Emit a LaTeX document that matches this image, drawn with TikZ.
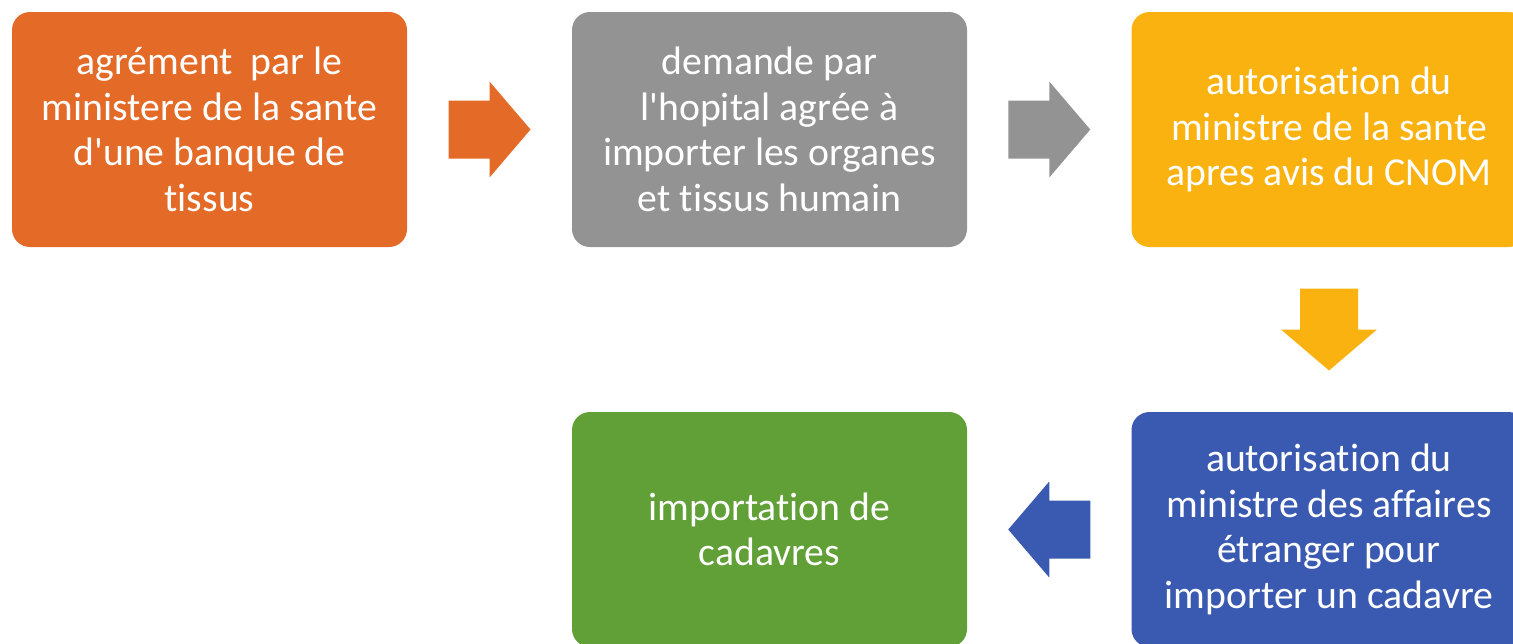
\documentclass[tikz,border=0pt]{standalone}
\usepackage{fontspec}
\setmainfont{Carlito}[Ligatures={NoCommon,TeXOff}]
\usetikzlibrary{calc,positioning}
\definecolor{orgc}{RGB}{228,106,40}
\definecolor{grisc}{RGB}{147,147,147}
\definecolor{jaunec}{RGB}{250,178,16}
\definecolor{bleuc}{RGB}{58,90,178}
\definecolor{vertc}{RGB}{96,160,55}
\begin{document}
\begin{tikzpicture}
\tikzstyle{etape}=[rectangle, rounded corners=0.36cm, text=white, align=center,
                        minimum width=7.9cm, minimum height=4.7cm, inner sep=0pt, font = \fontsize{22.6}{25.9}\selectfont]
\tikzset{pics/fleche/.style={code={\fill[#1] (-0.82,0.58) -- (0,0.58) -- (0,0.96) -- (0.82,0) -- (0,-0.96) -- (0,-0.58) -- (-0.82,-0.58) -- cycle;}}}
\clip (0,0) rectangle (30.26,-12.86);
\node[etape, fill=orgc] (A) at (4.19,-2.59) {agrément\ \ par le\\ministere de la sante\\d'une banque de\\tissus};
\node[etape, fill=grisc] (B) at (15.39,-2.59) {demande par\\l'hopital agrée à\\importer les organes\\et tissus humain};
\node[etape, fill=jaunec] (C) at (26.58,-2.59) {autorisation du\\ministre de la sante\\apres avis du CNOM};
\node[etape, fill=bleuc] (D) at (26.58,-10.59) {autorisation du\\ministre des affaires\\étranger pour\\importer un cadavre};
\node[etape, fill=vertc] (E) at (15.39,-10.59) {importation de\\cadavres};
%\draw (A) -- (B) -- (C) -- (D) -- (E);
\foreach \i/\j/\c/\r in {A/B/orgc/0,B/C/grisc/0,C/D/jaunec/-90,D/E/bleuc/180}{\pic[rotate=\r] at ($(\i)!0.5!(\j)$) {fleche=\c};}
\end{tikzpicture}
\end{document}
